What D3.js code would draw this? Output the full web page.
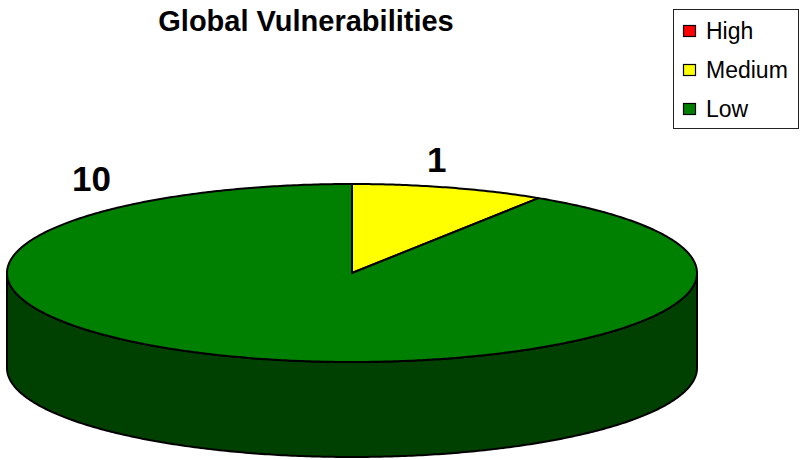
<!DOCTYPE html>
<html>
<head>
<meta charset="utf-8">
<script src="https://cdn.jsdelivr.net/npm/d3@7"></script>
<style>
  html, body { margin: 0; padding: 0; background: #fff; }
  svg { display: block; font-family: "Liberation Sans", Arial, sans-serif; }
</style>
</head>
<body>
<div id="chart"></div>
<script>
// Data
const categories = ["High", "Medium", "Low"];
const values = [0, 1, 10];
const colors = ["#ff0000", "#ffff00", "#008000"];
const sideColors = ["#800000", "#808000", "#004000"];

const width = 800, height = 460;

// Pie geometry (ellipse projection of a tilted disc)
const cx = 352, cy = 273, rx = 345, ry = 89, depth = 95;

const svg = d3.select("#chart")
    .append("svg")
    .attr("width", width)
    .attr("height", height);

// Title
svg.append("text")
    .attr("x", 306)
    .attr("y", 31)
    .attr("text-anchor", "middle")
    .attr("font-size", 29)
    .attr("font-weight", "bold")
    .text("Global Vulnerabilities");

const pie = d3.pie().sort(null).value(d => d.value);
const arcs = pie(categories.map((c, i) => ({ name: c, value: values[i], i })));

// point on the ellipse for an angle measured clockwise from 12 o'clock
const pt = (a, k = 1) => [cx + rx * k * Math.sin(a), cy - ry * k * Math.cos(a)];

function arcPoints(a0, a1, dy = 0) {
    const n = Math.max(2, Math.ceil(Math.abs(a1 - a0) / 0.01));
    return d3.range(n + 1).map(j => {
        const p = pt(a0 + (a1 - a0) * j / n);
        return [p[0], p[1] + dy];
    });
}

const line = d3.line();

// Side walls (only front half, angles between PI/2 and 3PI/2 are visible)
arcs.forEach(d => {
    if (d.endAngle - d.startAngle <= 0) return;
    const s = Math.max(d.startAngle, Math.PI / 2);
    const e = Math.min(d.endAngle, Math.PI * 1.5);
    if (e <= s) return;
    const top = arcPoints(s, e);
    const bottom = arcPoints(e, s, depth);
    svg.append("path")
        .attr("d", line(top.concat(bottom)) + "Z")
        .attr("fill", sideColors[d.data.i])
        .attr("stroke", "#000")
        .attr("stroke-width", 2)
        .attr("stroke-linejoin", "round");
});

// Top faces
arcs.forEach(d => {
    if (d.endAngle - d.startAngle <= 0) return;
    const pts = [[cx, cy]].concat(arcPoints(d.startAngle, d.endAngle));
    svg.append("path")
        .attr("d", line(pts) + "Z")
        .attr("fill", colors[d.data.i])
        .attr("stroke", "#000")
        .attr("stroke-width", 2)
        .attr("stroke-linejoin", "round");
});

// Data labels, placed outside the rim
const labelAngle = { Medium: 0.19, Low: -0.62 };
const labelScale = { Medium: 1.3, Low: 1.3 };
arcs.forEach(d => {
    if (d.data.value <= 0) return;
    const p = pt(labelAngle[d.data.name], labelScale[d.data.name]);
    svg.append("text")
        .attr("x", p[0])
        .attr("y", p[1])
        .attr("text-anchor", "middle")
        .attr("dy", "0.36em")
        .attr("font-size", 35)
        .attr("font-weight", "bold")
        .text(d.data.value);
});

// Legend
const legend = svg.append("g");
legend.append("rect")
    .attr("x", 673.5)
    .attr("y", 9.5)
    .attr("width", 125)
    .attr("height", 119)
    .attr("fill", "#fff")
    .attr("stroke", "#222")
    .attr("stroke-width", 1);

const ly = d3.scalePoint().domain(categories).range([31, 109]);
const item = legend.selectAll("g.item")
    .data(categories)
    .join("g")
    .attr("class", "item")
    .attr("transform", d => `translate(0,${ly(d)})`);

item.append("rect")
    .attr("x", 683.5)
    .attr("y", -5.5)
    .attr("width", 12)
    .attr("height", 11)
    .attr("fill", (d, i) => colors[i])
    .attr("stroke", "#000")
    .attr("stroke-width", 1.2);

item.append("text")
    .attr("x", 706)
    .attr("y", 7.5)
    .attr("font-size", 23)
    .text(d => d);
</script>
</body>
</html>
